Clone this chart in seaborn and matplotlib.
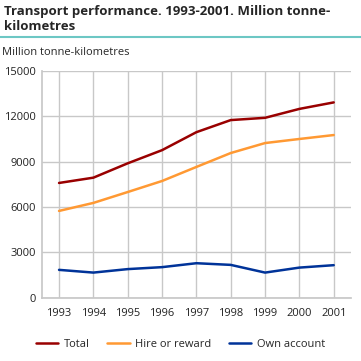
import matplotlib
matplotlib.use('Agg')
import matplotlib.pyplot as plt
from matplotlib.lines import Line2D
import seaborn as sns
import pandas as pd

# data
years = [1993, 1994, 1995, 1996, 1997, 1998, 1999, 2000, 2001]
total = [7600, 7950, 8900, 9770, 10960, 11760, 11910, 12500, 12930]
hire_or_reward = [5750, 6280, 7000, 7730, 8660, 9580, 10240, 10510, 10770]
own_account = [1850, 1670, 1900, 2030, 2290, 2180, 1670, 2000, 2160]

series_names = ['Total', 'Hire or reward', 'Own account']
colors = ['#990000', '#ff9933', '#003399']

df = pd.DataFrame({'year': years * 3,
                   'value': total + hire_or_reward + own_account,
                   'series': [s for s in series_names for _ in years]})

sns.set_theme(style='white')
plt.rcParams['font.family'] = ['Open Sans', 'DejaVu Sans']

fig = plt.figure(figsize=(3.61, 3.61), dpi=100)
ax = fig.add_axes([0.116, 0.175, 0.856, 0.628])

sns.lineplot(data=df, x='year', y='value', hue='series', palette=colors,
             linewidth=1.8, ax=ax, legend=False)

ax.set_xlim(1992.5, 2001.5)
ax.set_ylim(0, 15000)
ax.set_xticks(years)
ax.set_yticks([0, 3000, 6000, 9000, 12000, 15000])
ax.grid(True, color='#c8c8c8', linewidth=1)
ax.set_axisbelow(True)
for s in ['top', 'right']:
    ax.spines[s].set_visible(False)
for s in ['left', 'bottom']:
    ax.spines[s].set_color('#c8c8c8')
ax.tick_params(axis='both', labelsize=8, colors='#222222', length=0)
ax.tick_params(axis='x', pad=7)
ax.tick_params(axis='y', pad=4)
ax.set_xlabel('')
ax.set_ylabel('')

fig.text(0.01, 0.985, 'Transport performance. 1993-2001. Million tonne-\nkilometres',
         fontsize=9.5, fontweight='bold', va='top', ha='left', linespacing=1.15)
fig.add_artist(Line2D([0, 1], [0.897, 0.897], color='#6cc7c4', linewidth=1.5,
                      transform=fig.transFigure))
fig.text(0.005, 0.855, 'Million tonne-kilometres', fontsize=8, va='center', ha='left')

handles = [Line2D([0], [0], color=c, linewidth=1.8) for c in colors]
fig.legend(handles, series_names, loc='center', bbox_to_anchor=(0.5, 0.045),
           ncol=3, frameon=False, fontsize=8, handlelength=2.0, columnspacing=1.6,
           handletextpad=0.5)

fig.savefig('out.png', dpi=100)
